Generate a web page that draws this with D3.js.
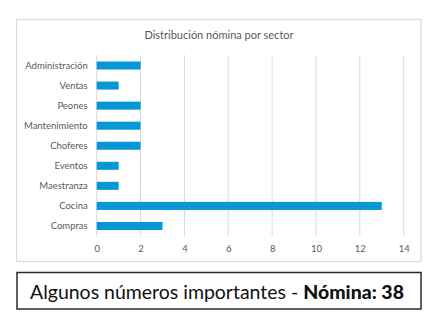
<!DOCTYPE html>
<html><head><meta charset="utf-8">
<script src="https://cdn.jsdelivr.net/npm/d3@7"></script>
<style>body{margin:0;background:#fff;} svg{display:block;}</style>
</head><body>
<svg id="c" width="438" height="326"></svg>
<script>
const categories = ["Administración","Ventas","Peones","Mantenimiento","Choferes","Eventos","Maestranza","Cocina","Compras"];
const values = [2,1,2,2,2,1,1,13,3];
const xTicks = [0,2,4,6,8,10,12,14];
const title = "Distribución nómina por sector";
const footNormal = "Algunos números importantes - ";
const footBold = "Nómina: 38";

const svg = d3.select("#c");
const font = "Lato, 'Open Sans', sans-serif";

// chart frame
svg.append("rect").attr("x",16.5).attr("y",19.5).attr("width",404.5).attr("height",242)
  .attr("fill","#fff").attr("stroke","#d9d9d9").attr("stroke-width",1.2);

svg.append("text").attr("x",219).attr("y",39).attr("text-anchor","middle")
  .attr("font-family",font).attr("font-size",11).attr("fill","#595959").text(title);

const x = d3.scaleLinear().domain([0,14]).range([96.7,403.7]);
const y = d3.scaleBand().domain(categories).range([55.5,236]).paddingInner(0.6).paddingOuter(0.3);

// gridlines
svg.append("g").selectAll("line").data(xTicks).join("line")
  .attr("x1",d=>x(d)).attr("x2",d=>x(d)).attr("y1",55).attr("y2",236)
  .attr("stroke","#d9d9d9").attr("stroke-width",1);

// bars
svg.append("g").selectAll("rect").data(categories).join("rect")
  .attr("x",x(0)).attr("y",d=>y(d)).attr("height",y.bandwidth())
  .attr("width",(d,i)=>x(values[i])-x(0)).attr("fill","#0797d7");

// y axis labels
const yAxis = svg.append("g").attr("transform",`translate(${x(0)},0)`)
  .call(d3.axisLeft(y).tickSize(0).tickPadding(9));
yAxis.select(".domain").remove();
yAxis.selectAll("text").attr("font-family",font).attr("font-size",9.5).attr("fill","#595959");

// x axis labels
const xAxis = svg.append("g").attr("transform",`translate(0,240)`)
  .call(d3.axisBottom(x).tickValues(xTicks).tickSize(0).tickPadding(5));
xAxis.select(".domain").remove();
xAxis.selectAll("text").attr("font-family",font).attr("font-size",9.5).attr("fill","#595959");

// footer box
svg.append("rect").attr("x",17).attr("y",272.5).attr("width",404).attr("height",36.5)
  .attr("fill","#fff").attr("stroke","#2b2b2b").attr("stroke-width",1.5);
const ft = svg.append("text").attr("x",217).attr("y",298.5).attr("text-anchor","middle")
  .attr("font-family","Lato, Inter, sans-serif").attr("font-size",19).attr("fill","#111");
ft.append("tspan").text(footNormal);
ft.append("tspan").attr("font-weight",900).text(footBold);
const w = ft.node().getComputedTextLength();
ft.attr("font-size", 19*374/w);
</script>
</body></html>
